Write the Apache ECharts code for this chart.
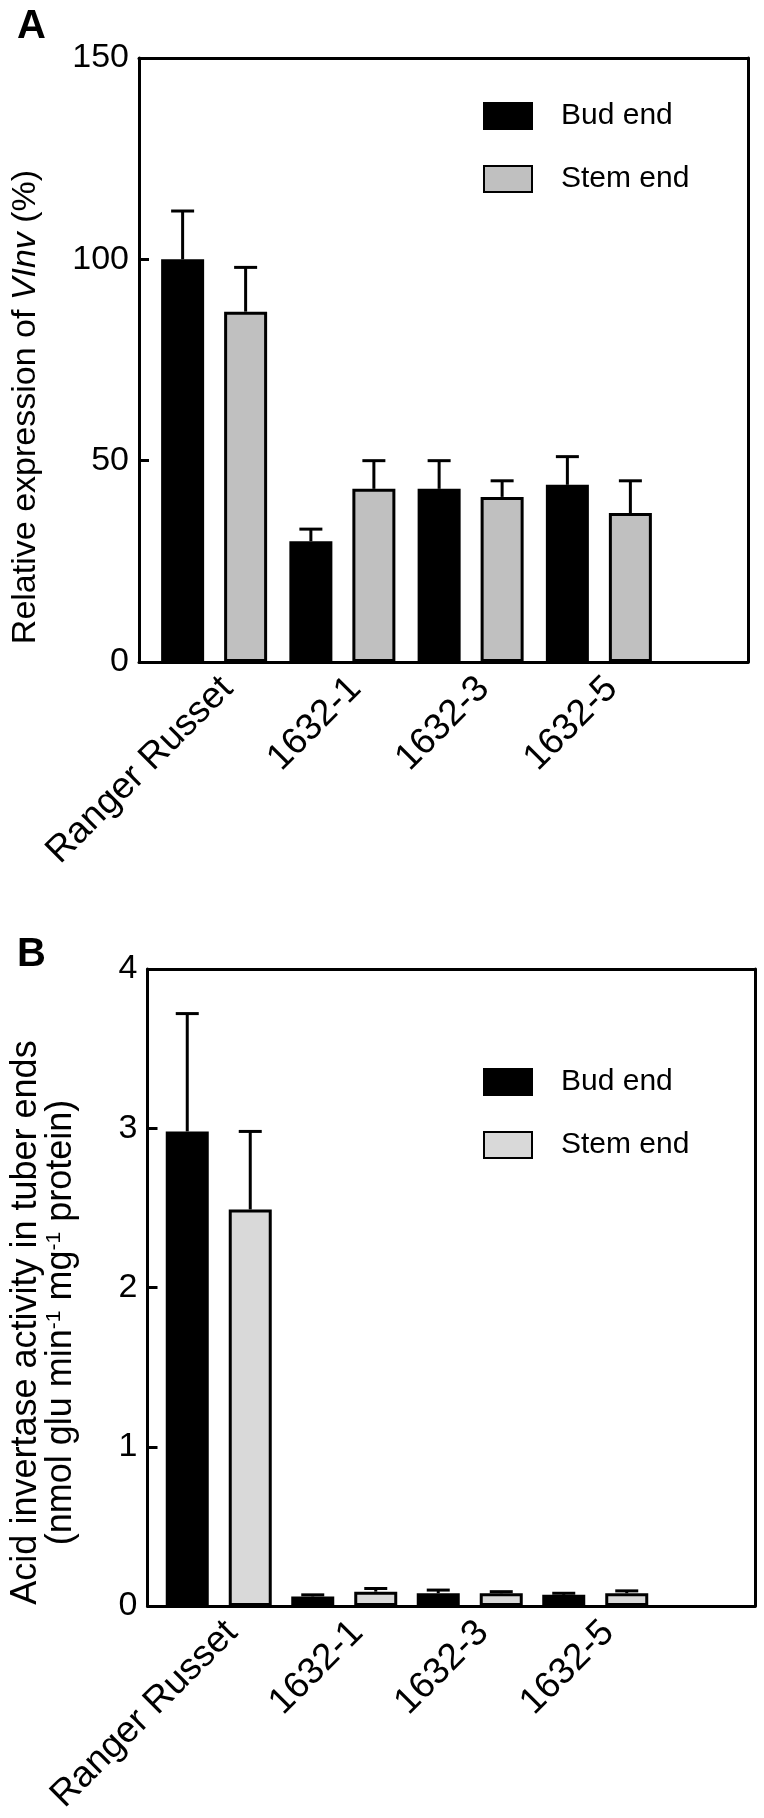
<!DOCTYPE html>
<html>
<head>
<meta charset="utf-8">
<script src="https://cdn.jsdelivr.net/npm/echarts@6/dist/echarts.min.js"></script>
<style>
html,body{margin:0;padding:0;background:#fff;}
#c{width:764px;height:1818px;}
</style>
</head>
<body>
<div id="c"></div>
<script>
// ---- data ----
const categories = ['Ranger Russet', '1632-1', '1632-3', '1632-5'];
const seriesNames = ['Bud end', 'Stem end'];

// Panel A: relative expression of VInv (%)
const budA = [100, 30, 43, 44];
const budAErr = [12, 3, 7, 7];
const stemA = [87, 43, 41, 37];
const stemAErr = [11, 7, 4, 8];
const ticksA = { min: 0, max: 150, interval: 50 };

// Panel B: acid invertase activity
const budB = [2.98, 0.06, 0.08, 0.07];
const budBErr = [0.74, 0.01, 0.02, 0.01];
const stemB = [2.49, 0.09, 0.08, 0.08];
const stemBErr = [0.49, 0.02, 0.01, 0.015];
const ticksB = { min: 0, max: 4, interval: 1 };

// ---- style ----
const FONT = '"Liberation Sans", Arial, Helvetica, sans-serif';
const BAR_W = 43, GAP = '46.5%', OFFSET = 31.5, CAP = 23, LW = 3;
const greyA = '#c0c0c0', greyB = '#d9d9d9';

function errRender(sign) {
  return function (params, api) {
    const i = api.value(0), v = api.value(1), e = api.value(2);
    const b = api.coord([i, v]);
    const t = api.coord([i, v + e]);
    const x = b[0] + sign * OFFSET;
    return {
      type: 'group',
      children: [
        { type: 'line', shape: { x1: x, y1: b[1], x2: x, y2: t[1] }, style: { stroke: '#000', lineWidth: LW } },
        { type: 'line', shape: { x1: x - CAP / 2, y1: t[1], x2: x + CAP / 2, y2: t[1] }, style: { stroke: '#000', lineWidth: LW } }
      ]
    };
  };
}
function errData(vals, errs) { return vals.map((v, i) => [i, v, errs[i]]); }

const lineSt = { color: '#000', width: LW };

// frame grid: box + y ticks/labels/name; data grid: categories + bars
function panelAxes(frameGrid, dataGrid, ticks, name, nameGap, nameStyle) {
  const frameX = pos => ({
    type: 'value', gridIndex: frameGrid, min: 0, max: 1, position: pos,
    axisLine: { show: true, onZero: false, lineStyle: lineSt },
    axisTick: { show: false }, axisLabel: { show: false }, splitLine: { show: false }
  });
  return {
    x: [
      frameX('bottom'),
      frameX('top'),
      {
        type: 'category', gridIndex: dataGrid, data: categories, position: 'bottom',
        axisLine: { show: false }, axisTick: { show: false },
        axisLabel: { interval: 0, rotate: 45, fontSize: 37, color: '#000', fontFamily: FONT, margin: 8, verticalAlign: 'top' }
      }
    ],
    y: [
      {
        type: 'value', gridIndex: frameGrid, min: ticks.min, max: ticks.max, interval: ticks.interval,
        position: 'left', splitLine: { show: false },
        axisLine: { show: true, onZero: false, lineStyle: lineSt },
        axisTick: { show: true, inside: true, length: 10, lineStyle: lineSt },
        axisLabel: { fontSize: 34, color: '#000', fontFamily: FONT, margin: 10 },
        name, nameLocation: 'middle', nameGap, nameRotate: 90,
        nameTextStyle: nameStyle
      },
      {
        type: 'value', gridIndex: frameGrid, min: ticks.min, max: ticks.max, interval: ticks.interval,
        position: 'right', splitLine: { show: false },
        axisLine: { show: true, onZero: false, lineStyle: lineSt },
        axisTick: { show: false }, axisLabel: { show: false }
      },
      {
        type: 'value', gridIndex: dataGrid, min: ticks.min, max: ticks.max, interval: ticks.interval,
        show: false, splitLine: { show: false }
      }
    ]
  };
}

const axA = panelAxes(0, 1, ticksA, 'Relative expression of {i|VInv} (%)', 96, {
  fontSize: 34, color: '#000', fontFamily: FONT, padding: [0, 94, 0, 0],
  rich: { i: { fontSize: 34, fontStyle: 'italic', color: '#000', fontFamily: FONT } }
});
const axB = panelAxes(2, 3, ticksB,
  '{a|Acid invertase activity in tuber ends}\n{b|(nmol glu min}{s|-1}{b| mg}{s|-1}{b| protein)}', 69, {
  fontSize: 36, color: '#000', fontFamily: FONT, padding: [0, 70, 0, 0],
  rich: {
    a: { fontSize: 36, color: '#000', fontFamily: FONT, lineHeight: 35 },
    b: { fontSize: 36, color: '#000', fontFamily: FONT, lineHeight: 35 },
    s: { fontSize: 21, color: '#000', fontFamily: FONT, verticalAlign: 'top', lineHeight: 35 }
  }
});

function barSeries(name, data, xi, yi, fill) {
  return {
    type: 'bar', name, data, xAxisIndex: xi, yAxisIndex: yi,
    barWidth: BAR_W, barGap: GAP,
    itemStyle: { color: fill, borderColor: '#000', borderWidth: LW },
    z: 2
  };
}
function errSeries(vals, errs, xi, yi, sign) {
  return {
    type: 'custom', renderItem: errRender(sign), data: errData(vals, errs),
    xAxisIndex: xi, yAxisIndex: yi, z: 3, silent: true
  };
}

const legendCommon = {
  orient: 'vertical', icon: 'rect', itemWidth: 48, itemHeight: 26, itemGap: 33,
  textStyle: { fontSize: 30, color: '#000', fontFamily: FONT, lineHeight: 30, padding: [0, 0, 0, 24] },
  formatter: n => n.trim()
};

const option = {
  backgroundColor: '#fff',
  animation: false,
  title: [
    { text: 'A', left: 12, top: 2, textStyle: { fontSize: 40, fontWeight: 'bold', color: '#000', fontFamily: FONT } },
    { text: 'B', left: 12, top: 930, textStyle: { fontSize: 40, fontWeight: 'bold', color: '#000', fontFamily: FONT } }
  ],
  grid: [
    { left: 139, right: 16, top: 58, height: 604 },
    { left: 150, width: 513, top: 58, height: 604 },
    { left: 147, right: 9, top: 969, height: 637 },
    { left: 156, width: 502, top: 969, height: 637 }
  ],
  legend: [
    Object.assign({}, legendCommon, { data: seriesNames, left: 478, top: 96 }),
    Object.assign({}, legendCommon, { data: seriesNames.map(n => n + ' '), left: 478, top: 1062 })
  ],
  xAxis: axA.x.concat(axB.x),
  yAxis: axA.y.concat(axB.y),
  series: [
    barSeries('Bud end', budA, 2, 2, '#000'),
    barSeries('Stem end', stemA, 2, 2, greyA),
    errSeries(budA, budAErr, 2, 2, -1),
    errSeries(stemA, stemAErr, 2, 2, 1),
    barSeries('Bud end ', budB, 5, 5, '#000'),
    barSeries('Stem end ', stemB, 5, 5, greyB),
    errSeries(budB, budBErr, 5, 5, -1),
    errSeries(stemB, stemBErr, 5, 5, 1)
  ]
};

const chart = echarts.init(document.getElementById('c'), null, { renderer: 'canvas' });
chart.setOption(option);
</script>
</body>
</html>
